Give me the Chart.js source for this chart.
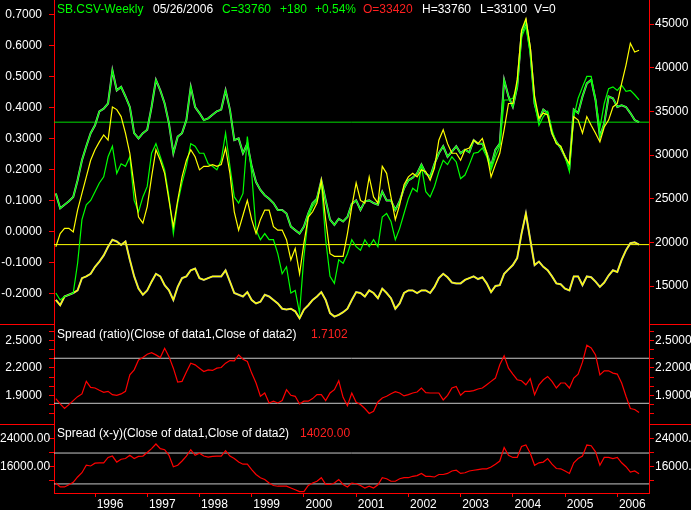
<!DOCTYPE html>
<html>
<head>
<meta charset="utf-8">
<title>SB.CSV-Weekly spread</title>
<script src="https://cdn.jsdelivr.net/npm/chart.js@4.4.0/dist/chart.umd.min.js"></script>
<style>
  html, body { margin: 0; padding: 0; background: #000; }
  #wrap { position: relative; width: 691px; height: 510px; background: #000; overflow: hidden; }
  .pane { position: absolute; left: 0; width: 691px; }
  canvas { display: block; }
</style>
</head>
<body>
<div id="wrap">
  <div class="pane" style="top:0"><canvas id="mainChart" width="691" height="324"></canvas></div>
  <div class="pane" style="top:324px"><canvas id="ratioChart" width="691" height="100"></canvas></div>
  <div class="pane" style="top:424px"><canvas id="diffChart" width="691" height="86"></canvas></div>
</div>
<script>
var firstMonth = 1995.25

var data1Close = [25600,23900,24300,24700,25200,27100,29400,31000,32500,33400,
  35000,35300,35900,39700,37400,37800,36700,35500,32500,31900,
  32500,32900,35500,38600,37400,35900,33600,30200,32100,32500,
  34000,37800,35500,34800,34000,34200,34600,35000,35200,37400,
  35200,31700,31900,30200,31300,28700,26900,26000,25400,25000,
  24500,23700,23700,23300,21800,21400,21000,21800,23300,24500,
  25000,27100,24800,22600,22000,22700,22400,22900,24400,24800,
  23700,24700,24800,24500,24300,25800,24800,24800,23700,24700,
  26200,27100,27400,27900,28900,27900,27500,29000,30200,31000,
  29800,30400,31000,30200,30600,30300,31700,31300,31300,30200,
  28700,30600,31300,38600,36700,35500,37800,43900,45300,42000,
  35900,34000,35200,34800,32500,31500,30800,29800,28700,35200,
  34800,36700,38200,38600,36300,32100,33600,36700,36500,35500,
  35700,35500,34800,34000,33760]

var data2Close = [13400,12800,13800,14000,14200,14500,15900,16100,16400,17200,
  17800,18500,19500,20300,20100,19700,20100,18000,16100,14700,
  14000,14500,15500,16400,16100,15100,14500,13400,14900,15900,
  16100,16800,17000,15900,15700,15900,16100,16100,16100,16800,
  15500,14200,14000,13800,14300,13400,13000,13200,14000,13800,
  13400,13000,12400,12300,12400,12100,11300,12300,12800,13400,
  13800,14300,13400,11900,11500,11700,12000,12400,13400,14300,
  14200,13800,14500,14200,13600,14700,14200,13600,12400,13000,
  14200,14500,14500,14200,14500,14500,14200,14900,15900,16400,
  16000,15400,15300,15300,15700,15900,16100,15800,16000,15300,
  14300,15000,15100,16400,16900,17400,18200,21000,23300,20300,
  17400,17800,17200,16800,16100,15300,15200,14700,14500,16100,
  16100,15100,16100,16000,15500,14900,15400,16200,16800,16600,
  18000,19100,19900,20000,19740]

// the two overlay lines of the upper pane
var yellowLine = [19500,21000,21600,21600,21200,23700,25600,27500,29400,30600,
  31500,32300,31700,35500,35200,34400,32500,30200,26400,22900,
  22200,24100,27500,30600,29400,27900,24800,21800,24800,27500,
  29400,30600,29800,28300,28700,28700,28900,28700,28900,30800,
  27900,23500,21400,23100,24800,22600,21000,22600,23700,23700,
  21800,21400,21400,20300,18000,19300,16400,19900,22900,23500,
  24500,27100,22600,18700,18400,18400,18400,21000,24100,26800,
  24800,24500,27500,25200,24500,28700,27900,25200,22600,24300,
  26600,27500,27900,27500,28300,28100,27100,28500,31700,32900,
  31300,30200,30200,29400,30600,30800,31700,31300,31900,30200,
  27500,28900,30200,32900,35900,35900,38600,44300,45600,42400,
  36700,34200,34800,34600,32500,31300,31000,29800,29000,34400,
  34000,32500,34400,33400,32500,31500,33200,34000,35500,35900,
  38200,40300,42800,41800,42000]

var greenLine = [14200,13400,13800,14000,14200,17600,22600,24300,24800,25800,
  26800,27500,29800,31000,27900,29000,28700,29800,24800,23500,
  25200,26400,30200,31300,29800,28300,25200,21000,24500,26800,
  28700,31300,31000,30200,30200,29000,28700,28300,29400,32500,
  28700,25200,24500,25600,32100,27900,21400,20300,21000,20300,
  20300,18700,16400,17200,14200,14500,11900,18400,22900,24100,
  24800,26900,20300,16100,15300,18000,17600,18700,20300,19500,
  19100,20300,19500,20300,19500,22900,23300,22400,20300,21600,
  23300,25000,26200,25800,28700,25800,25200,26400,28100,29400,
  28900,29800,29200,27300,27700,28900,30200,30300,30800,29800,
  28300,29800,31000,36300,36300,36500,37800,43500,44700,41600,
  35900,33400,34400,35000,32900,31300,31000,29800,28100,34400,
  36500,37800,39000,39000,36300,33100,35900,37600,37800,37400,
  38000,37300,37400,36900,36300]

var ratioSpread = [1.864,1.805,1.755,1.798,1.842,1.885,1.915,2.053,1.987,1.980,
  1.955,1.933,1.944,1.907,1.900,1.915,1.944,2.125,2.180,2.289,
  2.315,2.351,2.369,2.344,2.315,2.416,2.325,2.198,2.045,2.053,
  2.155,2.253,2.235,2.198,2.162,2.180,2.173,2.198,2.205,2.253,
  2.282,2.278,2.344,2.296,2.271,2.144,2.035,1.889,1.925,1.816,
  1.835,1.816,1.842,1.962,1.900,1.889,1.805,1.835,1.835,1.864,
  1.907,1.907,1.842,1.925,1.962,2.060,1.878,1.785,1.925,1.824,
  1.798,1.755,1.700,1.725,1.827,1.871,1.889,1.918,1.940,1.925,
  1.893,1.907,1.925,1.936,1.980,1.929,1.925,1.925,1.925,1.849,
  1.900,1.980,1.998,1.900,1.944,1.944,1.951,1.969,1.980,2.016,
  2.053,2.089,2.235,2.333,2.198,2.133,2.071,2.060,2.016,2.082,
  1.907,2.016,2.071,2.107,2.053,1.980,2.035,2.035,1.980,2.089,
  2.133,2.264,2.450,2.420,2.344,2.125,2.169,2.169,2.144,2.133,
  2.035,1.889,1.755,1.744,1.7102]

var diffSpread = [11400,10300,10300,10900,11600,13100,14300,16400,16200,17000,
  17100,17100,18600,19000,17300,18100,18300,19200,18300,18900,
  19000,20000,21100,22400,21100,20800,19200,16000,16400,17600,
  19000,20800,19200,19800,19000,18700,18900,19000,19000,20500,
  19000,18300,17300,16700,16700,15200,13800,12900,12400,11400,
  10700,10500,10500,10500,10000,9500,9000,9000,10700,11400,
  11900,12900,11000,11000,11400,12400,11000,10300,11400,11200,
  10700,10000,10500,10000,10900,12900,12600,11900,11900,12600,
  12900,12900,13300,13500,14100,13300,13300,13100,13800,13800,
  14100,14800,15000,14100,14300,14800,15000,15200,15400,15400,
  15900,16700,17600,21400,19200,18600,18600,21700,22100,19800,
  16400,17100,17300,18300,16700,15500,15400,14800,14100,17100,
  18300,19000,22100,21900,20200,16400,18600,18600,18300,18600,
  17100,16000,14500,14800,14020]

// axis ticks and the fixed guide levels
var yearTicks = [1996,1997,1998,1999,2000,2001,2002,2003,2004,2005,2006]
var priceTicks = [15000,20000,25000,30000,35000,40000,45000]
var leftTicks = [-0.2,-0.1,0,0.1,0.2,0.3,0.4,0.5,0.6,0.7]
var ratioTicks = [1.7,1.8,1.9,2.0,2.1,2.2,2.3,2.4,2.5,2.6]
var ratioLabelled = [1.9,2.2,2.5]
var diffTicks = [12000,16000,20000,24000,28000]
var diffLabelled = [16000,24000]
var ratioBands = [1.812,2.307]
var diffBands = [11150,19850]

var headerItems = [
  ['SB.CSV-Weekly', '#00ff00', 57],
  ['05/26/2006', '#ffffff', 153],
  ['C=33760', '#00ff00', 222],
  ['+180', '#00ff00', 280],
  ['+0.54%', '#00ff00', 315],
  ['O=33420', '#ff2020', 363],
  ['H=33760', '#ffffff', 422],
  ['L=33100', '#ffffff', 480],
  ['V=0', '#ffffff', 534]
]

var RED = '#ff0000'
var FONT = { family: '"Liberation Sans", Arial, sans-serif', size: 12 }
var FONT_CSS = '12px "Liberation Sans", Arial, sans-serif'
var xMin = 1995.215, xMax = 2006.607

function toPoints(values) {
  return values.map(function (v, i) { return { x: firstMonth + i / 12, y: v } })
}
function flatLine(level) {
  return [{ x: xMin, y: level }, { x: xMax, y: level }]
}
function lineSet(data, color, width, axis) {
  return { data: data, borderColor: color, borderWidth: width, pointRadius: 0,
           tension: 0, fill: false, yAxisID: axis }
}
function fixedTicks(list) {
  return function (s) { s.ticks = list.map(function (v) { return { value: v } }) }
}

function xAxis(show) {
  return {
    type: 'linear', min: xMin, max: xMax, display: show, bounds: 'data',
    afterBuildTicks: fixedTicks(yearTicks),
    afterFit: function (s) { s.paddingLeft = 0; s.paddingRight = 0; if (show) s.height = 17 },
    grid: { drawOnChartArea: false, color: RED, tickLength: 4 },
    border: { color: RED },
    ticks: { color: '#fff', font: FONT, padding: 0, labelOffset: 15, maxRotation: 0,
             autoSkip: false, callback: function (v) { return String(v) } }
  }
}

function yAxis(pos, min, max, list, labelled, digits, align) {
  return {
    type: 'linear', position: pos, min: min, max: max, bounds: 'data',
    afterBuildTicks: fixedTicks(list),
    afterFit: function (s) {
      s.width = pos === 'left' ? 54 : 42
      s.paddingTop = 0; s.paddingBottom = 0
    },
    grid: { drawOnChartArea: false, color: RED, tickLength: 5 },
    border: { color: RED },
    ticks: { color: '#fff', font: FONT, padding: pos === 'left' ? 7 : 1, autoSkip: false,
             crossAlign: align || 'near',
             callback: function (v) { return labelled.indexOf(v) >= 0 ? v.toFixed(digits) : '' } }
  }
}

// quote line on top of the price pane
var headerPlugin = {
  id: 'header',
  afterDraw: function (chart) {
    var ctx = chart.ctx
    ctx.save()
    ctx.font = FONT_CSS
    headerItems.forEach(function (h) { ctx.fillStyle = h[1]; ctx.fillText(h[0], h[2], 13) })
    ctx.restore()
  }
}

// red divider in the margins + study title for the lower panes
var panePlugin = {
  id: 'pane',
  afterDraw: function (chart, args, opts) {
    var a = chart.chartArea, ctx = chart.ctx
    ctx.save()
    ctx.strokeStyle = RED
    ctx.lineWidth = 1
    ctx.beginPath()
    ctx.moveTo(0, a.top + 0.5); ctx.lineTo(a.left, a.top + 0.5)
    ctx.moveTo(a.right, a.top + 0.5); ctx.lineTo(chart.width, a.top + 0.5)
    ctx.stroke()
    ctx.font = FONT_CSS
    ctx.fillStyle = '#ffffff'
    ctx.fillText(opts.title, 57, opts.y)
    ctx.fillStyle = '#ff2020'
    ctx.fillText(opts.value, opts.valueX, opts.y)
    ctx.restore()
  }
}

function baseOptions() {
  return {
    responsive: false, animation: false, events: [],
    layout: { padding: 0 },
    plugins: { legend: { display: false }, tooltip: { enabled: false } }
  }
}

// upper pane: both closes and the two overlays
var mainOpts = baseOptions()
mainOpts.scales = {
  x: xAxis(false),
  yl: yAxis('left', -0.2994, 0.7485, leftTicks, leftTicks, 4),
  y: yAxis('right', 10650, 47748, priceTicks, priceTicks, 0)
}
new Chart(document.getElementById('mainChart'), {
  type: 'line',
  data: { datasets: [
    lineSet(toPoints(yellowLine), '#ffff00', 1.2, 'y'),
    lineSet(toPoints(greenLine), '#00ff00', 1.2, 'y'),
    lineSet(toPoints(data1Close), '#00ff00', 1.3, 'y'),
    lineSet(toPoints(data1Close), '#b4b4b4', 2, 'y'),
    lineSet(toPoints(data2Close), '#ffff00', 1.3, 'y'),
    lineSet(toPoints(data2Close), '#b4b4b4', 2, 'y'),
    lineSet(flatLine(data1Close[data1Close.length - 1]), '#00dd00', 1, 'y'),
    lineSet(flatLine(data2Close[data2Close.length - 1]), '#ffff00', 1, 'y')
  ] },
  options: mainOpts,
  plugins: [headerPlugin]
})

// ratio spread pane
var ratioOpts = baseOptions()
ratioOpts.scales = {
  x: xAxis(false),
  yl: yAxis('left', 1.5846, 2.6835, ratioTicks, ratioLabelled, 4),
  y: yAxis('right', 1.5846, 2.6835, ratioTicks, ratioLabelled, 4)
}
ratioOpts.plugins.pane = {
  title: 'Spread (ratio)(Close of data1,Close of data2)',
  value: ratioSpread[ratioSpread.length - 1].toFixed(4), valueX: 311, y: 14
}
new Chart(document.getElementById('ratioChart'), {
  type: 'line',
  data: { datasets: [
    lineSet(toPoints(ratioSpread), '#ff0000', 1.2, 'y'),
    lineSet(flatLine(ratioBands[0]), '#c8c8c8', 1, 'y'),
    lineSet(flatLine(ratioBands[1]), '#c8c8c8', 1, 'y')
  ] },
  options: ratioOpts,
  plugins: [panePlugin]
})

// difference spread pane, carries the date axis
var diffOpts = baseOptions()
diffOpts.scales = {
  x: xAxis(true),
  yl: yAxis('left', 8591, 28028, diffTicks, diffLabelled, 2, 'far'),
  y: yAxis('right', 8591, 28028, diffTicks, diffLabelled, 2)
}
diffOpts.plugins.pane = {
  title: 'Spread (x-y)(Close of data1,Close of data2)',
  value: diffSpread[diffSpread.length - 1].toFixed(2), valueX: 300, y: 13
}
new Chart(document.getElementById('diffChart'), {
  type: 'line',
  data: { datasets: [
    lineSet(toPoints(diffSpread), '#ff0000', 1.2, 'y'),
    lineSet(flatLine(diffBands[0]), '#c8c8c8', 1, 'y'),
    lineSet(flatLine(diffBands[1]), '#c8c8c8', 1, 'y')
  ] },
  options: diffOpts,
  plugins: [panePlugin]
})
</script>
</body>
</html>
